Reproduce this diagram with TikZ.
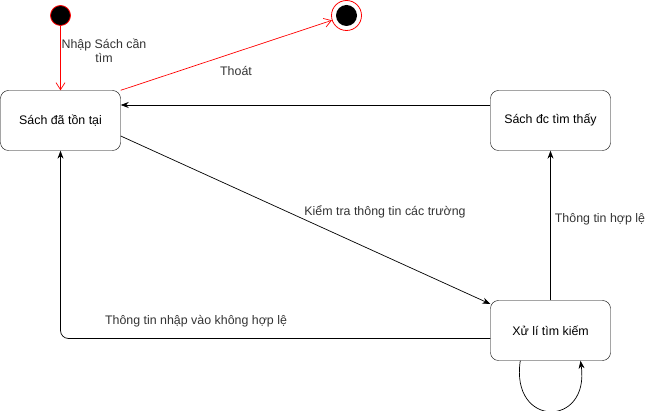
\documentclass[tikz,border=0pt]{standalone}
\usepackage{fontspec}
\setmainfont{Liberation Sans}
\usetikzlibrary{arrows.meta}
\begin{document}
\begin{tikzpicture}[x=1pt,y=-1pt,
  state/.style={draw, rounded corners=8pt, minimum width=120pt, minimum height=60pt, inner sep=0pt, font=\fontsize{12.4}{14}\selectfont},
  lbl/.style={font=\fontsize{12.4}{14}\selectfont, inner sep=1pt, text=black!80},
  blk/.style={-{Stealth[length=8pt,width=6pt]}, line width=0.7pt},
  redarr/.style={red, line width=0.7pt, -{Straight Barb[length=7pt,width=9pt]}}]
\useasboundingbox (0,0) rectangle (651,411);
\node[state] (ton) at (60.5,120.5) {Sách đã tồn tại};
\node[state] (thay) at (550.5,120.5) {Sách đc tìm thấy};
\node[state] (xl) at (550.5,330.5) {Xử lí tìm kiếm};
\node[circle, draw=red, fill=black, minimum size=20pt, inner sep=0pt, line width=0.8pt] (init) at (60.5,15.5) {};
\node[circle, draw=red, minimum size=30pt, inner sep=0pt, line width=0.8pt] (fin) at (346.5,15.5) {};
\node[circle, fill=black, minimum size=21pt, inner sep=0pt] (finin) at (fin.center) {};
\draw[redarr] (init) -- (ton.north);
\node[lbl, align=center] (l1) at (104,51) {Nhập Sách cần\\tìm};
\draw[redarr] (ton.north east) -- (fin);
\node[lbl] (l2) at (236,71) {Thoát};
\draw[blk] (thay.west |- 0,105) -- (ton.east |- 0,105);
\draw[blk] (ton.east |- 0,136) -- (xl.north west |- 0,304);
\node[lbl] (l3) at (385,212) {Kiểm tra thông tin các trường};
\draw[blk] (xl.north) -- (thay.south);
\node[lbl] (l4) at (600,219) {Thông tin hợp lệ};
\coordinate (c1) at (60.5,338.5);
\draw[blk, rounded corners=8pt] (xl.west |- 0,338.5) -- (c1) -- (ton.south);
\node[lbl] (l5) at (196,321) {Thông tin nhập vào không hợp lệ};
\draw[blk] (xl.south west) ++(30,0) coordinate (s1) .. controls (510,428) and (590,428) .. (xl.south east -| 580.5,0);
\end{tikzpicture}
\end{document}
